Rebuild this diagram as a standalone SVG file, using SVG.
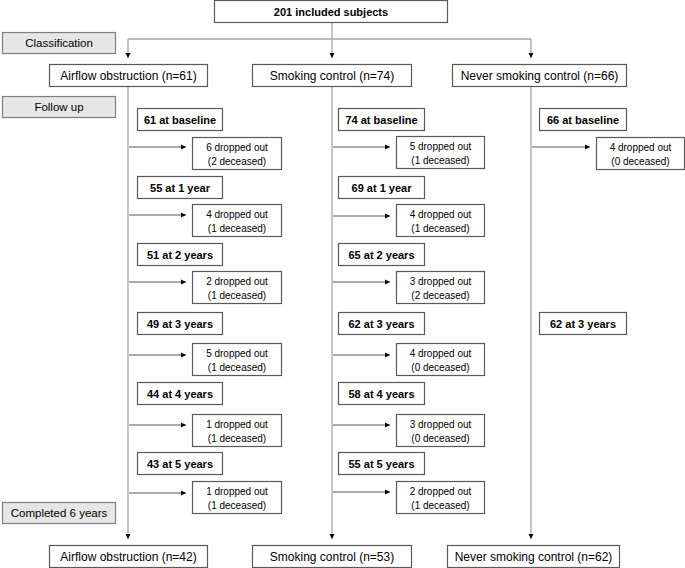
<svg xmlns="http://www.w3.org/2000/svg" width="685" height="568" viewBox="0 0 685 568">
<defs>
<style>
.box{fill:#fff;stroke:#595959;stroke-width:1.2}
.side{fill:#e7e6e6;stroke:#7f7f7f;stroke-width:1.2}
.vline{fill:none;stroke:#a6a6a6;stroke-width:1.3}
.hline{fill:none;stroke:#595959;stroke-width:1}
text{font-family:"Liberation Sans",Arial,sans-serif;fill:#000;text-anchor:middle}
.b{font-weight:bold;font-size:11px}
.r{font-size:12px}
.s{font-size:11.5px}
.d{font-size:10px}
</style>
<marker id="ah" markerWidth="6" markerHeight="6" refX="5" refY="3" orient="auto" markerUnits="userSpaceOnUse">
<path d="M0,0.5 L5,3 L0,5.5 Z" fill="#000"/>
</marker>
</defs>
<rect width="685" height="568" fill="#fff"/>

<g id="connectors">
<path class="vline" d="M332,22 V39"/>
<path class="vline" d="M128,39 H531"/>
<path class="vline" d="M128,39 V58" marker-end="url(#ah)"/>
<path class="vline" d="M332,39 V58" marker-end="url(#ah)"/>
<path class="vline" d="M531,39 V58" marker-end="url(#ah)"/>
<path class="vline" d="M128,86 V539" marker-end="url(#ah)"/>
<path class="vline" d="M332,86 V539" marker-end="url(#ah)"/>
<path class="vline" d="M531,86 V539" marker-end="url(#ah)"/>
<path class="hline" d="M129,147 H186" marker-end="url(#ah)"/>
<path class="hline" d="M129,215 H186" marker-end="url(#ah)"/>
<path class="hline" d="M129,282 H186" marker-end="url(#ah)"/>
<path class="hline" d="M129,355 H186" marker-end="url(#ah)"/>
<path class="hline" d="M129,425 H186" marker-end="url(#ah)"/>
<path class="hline" d="M129,493 H186" marker-end="url(#ah)"/>
<path class="hline" d="M333,147 H390" marker-end="url(#ah)"/>
<path class="hline" d="M333,216 H390" marker-end="url(#ah)"/>
<path class="hline" d="M333,282 H390" marker-end="url(#ah)"/>
<path class="hline" d="M333,355 H390" marker-end="url(#ah)"/>
<path class="hline" d="M333,425 H390" marker-end="url(#ah)"/>
<path class="hline" d="M333,492 H390" marker-end="url(#ah)"/>
<path class="hline" d="M532,147 H590" marker-end="url(#ah)"/>
</g>

<g id="included">
<rect class="box" x="214.5" y="0.5" width="233" height="22"/>
<text class="b" x="331" y="15.5">201 included subjects</text>
</g>

<g id="label-classification">
<rect class="side" x="2.5" y="32.5" width="113" height="21"/>
<text class="s" x="59" y="47">Classification</text>
</g>
<g id="label-followup">
<rect class="side" x="2.5" y="96.5" width="113" height="21"/>
<text class="s" x="59" y="111">Follow up</text>
</g>
<g id="label-completed">
<rect class="side" x="2.5" y="502.5" width="113" height="21"/>
<text class="s" x="59" y="517">Completed 6 years</text>
</g>

<g id="ao-start">
<rect class="box" x="49.5" y="64.5" width="158" height="22"/>
<text class="r" x="128.5" y="79.5">Airflow obstruction (n=61)</text>
</g>
<g id="sc-start">
<rect class="box" x="252.5" y="64.5" width="159" height="22"/>
<text class="r" x="332" y="79.5">Smoking control (n=74)</text>
</g>
<g id="ns-start">
<rect class="box" x="452.5" y="64.5" width="174" height="22"/>
<text class="r" x="539.5" y="79.5">Never smoking control (n=66)</text>
</g>

<!-- Airflow obstruction column -->
<g id="ao-0"><rect class="box" x="137.5" y="108.5" width="85" height="22"/><text class="b" x="180" y="123.5">61 at baseline</text></g>
<g id="ao-d0"><rect class="box" x="192.5" y="137.5" width="89" height="32"/><text class="d" x="237" y="150.5">6 dropped out</text><text class="d" x="237" y="164.5">(2 deceased)</text></g>
<g id="ao-1"><rect class="box" x="137.5" y="176.5" width="85" height="22"/><text class="b" x="180" y="191.5">55 at 1 year</text></g>
<g id="ao-d1"><rect class="box" x="192.5" y="204.5" width="89" height="32"/><text class="d" x="237" y="217.5">4 dropped out</text><text class="d" x="237" y="231.5">(1 deceased)</text></g>
<g id="ao-2"><rect class="box" x="137.5" y="243.5" width="85" height="22"/><text class="b" x="180" y="258.5">51 at 2 years</text></g>
<g id="ao-d2"><rect class="box" x="192.5" y="271.5" width="89" height="32"/><text class="d" x="237" y="284.5">2 dropped out</text><text class="d" x="237" y="298.5">(1 deceased)</text></g>
<g id="ao-3"><rect class="box" x="137.5" y="312.5" width="85" height="22"/><text class="b" x="180" y="327.5">49 at 3 years</text></g>
<g id="ao-d3"><rect class="box" x="192.5" y="343.5" width="89" height="32"/><text class="d" x="237" y="356.5">5 dropped out</text><text class="d" x="237" y="370.5">(1 deceased)</text></g>
<g id="ao-4"><rect class="box" x="137.5" y="382.5" width="85" height="22"/><text class="b" x="180" y="397.5">44 at 4 years</text></g>
<g id="ao-d4"><rect class="box" x="192.5" y="414.5" width="89" height="32"/><text class="d" x="237" y="427.5">1 dropped out</text><text class="d" x="237" y="441.5">(1 deceased)</text></g>
<g id="ao-5"><rect class="box" x="137.5" y="452.5" width="85" height="22"/><text class="b" x="180" y="467.5">43 at 5 years</text></g>
<g id="ao-d5"><rect class="box" x="192.5" y="481.5" width="89" height="32"/><text class="d" x="237" y="494.5">1 dropped out</text><text class="d" x="237" y="508.5">(1 deceased)</text></g>

<!-- Smoking control column -->
<g id="sc-0"><rect class="box" x="338.5" y="108.5" width="86" height="22"/><text class="b" x="381.5" y="123.5">74 at baseline</text></g>
<g id="sc-d0"><rect class="box" x="396.5" y="136.5" width="88" height="32"/><text class="d" x="440.5" y="149.5">5 dropped out</text><text class="d" x="440.5" y="163.5">(1 deceased)</text></g>
<g id="sc-1"><rect class="box" x="338.5" y="176.5" width="86" height="22"/><text class="b" x="381.5" y="191.5">69 at 1 year</text></g>
<g id="sc-d1"><rect class="box" x="396.5" y="204.5" width="88" height="32"/><text class="d" x="440.5" y="217.5">4 dropped out</text><text class="d" x="440.5" y="231.5">(1 deceased)</text></g>
<g id="sc-2"><rect class="box" x="338.5" y="243.5" width="86" height="22"/><text class="b" x="381.5" y="258.5">65 at 2 years</text></g>
<g id="sc-d2"><rect class="box" x="396.5" y="271.5" width="88" height="32"/><text class="d" x="440.5" y="284.5">3 dropped out</text><text class="d" x="440.5" y="298.5">(2 deceased)</text></g>
<g id="sc-3"><rect class="box" x="338.5" y="312.5" width="86" height="22"/><text class="b" x="381.5" y="327.5">62 at 3 years</text></g>
<g id="sc-d3"><rect class="box" x="396.5" y="343.5" width="88" height="32"/><text class="d" x="440.5" y="356.5">4 dropped out</text><text class="d" x="440.5" y="370.5">(0 deceased)</text></g>
<g id="sc-4"><rect class="box" x="338.5" y="382.5" width="86" height="22"/><text class="b" x="381.5" y="397.5">58 at 4 years</text></g>
<g id="sc-d4"><rect class="box" x="396.5" y="414.5" width="88" height="32"/><text class="d" x="440.5" y="427.5">3 dropped out</text><text class="d" x="440.5" y="441.5">(0 deceased)</text></g>
<g id="sc-5"><rect class="box" x="338.5" y="452.5" width="86" height="22"/><text class="b" x="381.5" y="467.5">55 at 5 years</text></g>
<g id="sc-d5"><rect class="box" x="396.5" y="481.5" width="88" height="32"/><text class="d" x="440.5" y="494.5">2 dropped out</text><text class="d" x="440.5" y="508.5">(1 deceased)</text></g>

<!-- Never smoking control column -->
<g id="ns-0"><rect class="box" x="539.5" y="108.5" width="87" height="22"/><text class="b" x="583" y="123.5">66 at baseline</text></g>
<g id="ns-d0"><rect class="box" x="596.5" y="137.5" width="88" height="32"/><text class="d" x="640.5" y="150.5">4 dropped out</text><text class="d" x="640.5" y="164.5">(0 deceased)</text></g>
<g id="ns-3"><rect class="box" x="539.5" y="312.5" width="87" height="22"/><text class="b" x="583" y="327.5">62 at 3 years</text></g>

<g id="ao-end">
<rect class="box" x="49.5" y="545.5" width="158" height="22"/>
<text class="r" x="128.5" y="560.5">Airflow obstruction (n=42)</text>
</g>
<g id="sc-end">
<rect class="box" x="252.5" y="545.5" width="159" height="22"/>
<text class="r" x="332" y="560.5">Smoking control (n=53)</text>
</g>
<g id="ns-end">
<rect class="box" x="447.5" y="545.5" width="172" height="22"/>
<text class="r" x="533.5" y="560.5">Never smoking control (n=62)</text>
</g>
</svg>
